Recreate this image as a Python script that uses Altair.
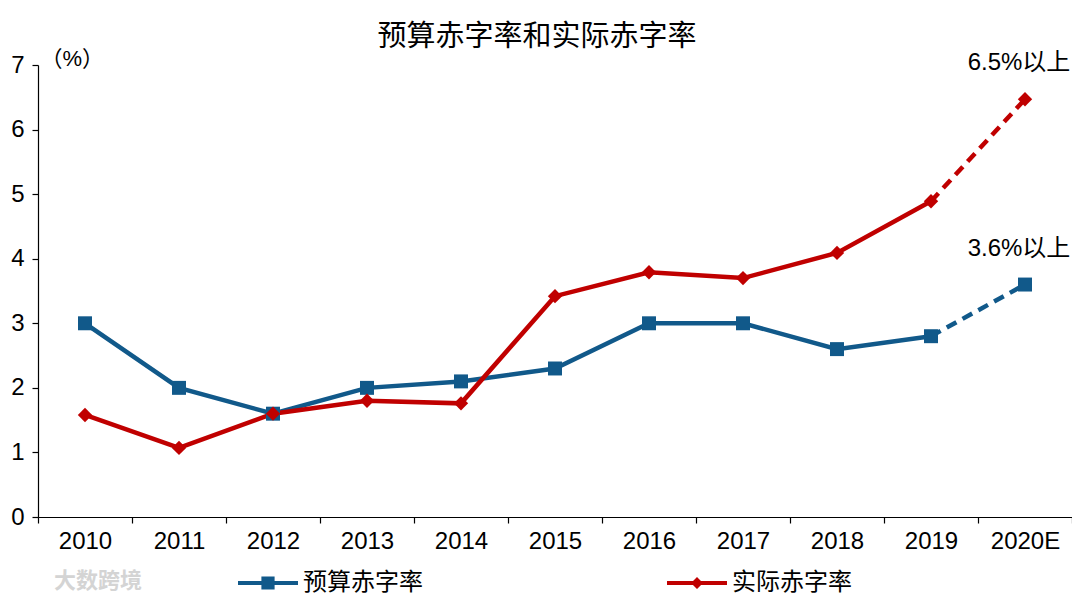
import json
import altair as alt
import pandas as pd

years = ["2010", "2011", "2012", "2013", "2014", "2015", "2016", "2017", "2018", "2019", "2020E"]
budget = [3.0, 2.0, 1.6, 2.0, 2.1, 2.3, 3.0, 3.0, 2.6, 2.8, 3.6]
actual = [1.58, 1.07, 1.60, 1.80, 1.76, 3.42, 3.79, 3.70, 4.09, 4.89, 6.47]
series_names = ["预算赤字率", "实际赤字率"]
series_colors = ["#11598a", "#c00000"]
notes = ["3.6%以上", "6.5%以上"]
title_text = "预算赤字率和实际赤字率"

FONT = "Liberation Sans, Noto Sans CJK SC, sans-serif"

rows = []
for i, y in enumerate(years):
    rows.append({"idx": i, "year": y, "series": series_names[0], "value": budget[i]})
    rows.append({"idx": i, "year": y, "series": series_names[1], "value": actual[i]})
df = pd.DataFrame(rows)

note_df = pd.DataFrame({
    "idx": [len(years) - 1, len(years) - 1],
    "value": [budget[-1], actual[-1]],
    "note": notes,
})

label_expr = json.dumps(years) + "[datum.value]"

x_scale = alt.Scale(domain=[-0.5, len(years) - 0.5], nice=False, zero=False)
y_scale = alt.Scale(domain=[0, 7], nice=False)

x_label_axis = alt.Axis(
    orient="bottom", values=list(range(len(years))), labelExpr=label_expr,
    ticks=False, domain=True, domainColor="#000", domainWidth=1.2,
    grid=False, title=None, labelFontSize=24, labelColor="#000",
    labelFont=FONT, labelPadding=12,
)
x_tick_axis = alt.Axis(
    orient="bottom", values=[i - 0.5 for i in range(len(years) + 1)],
    labels=False, ticks=True, tickSize=6, tickColor="#000", tickWidth=1.2,
    domain=False, grid=False, title=None,
)
y_axis = alt.Axis(
    values=list(range(0, 8)), format="d", grid=False, tickSize=6, tickColor="#000",
    tickWidth=1.2, domainColor="#000", domainWidth=1.2,
    labelFontSize=24, labelColor="#000", labelFont=FONT, labelPadding=8,
    title="（%）", titleAngle=0, titleX=2, titleY=5, titleAlign="left",
    titleBaseline="bottom", titleFontSize=22, titleFontWeight="normal",
    titleFont=FONT, titleColor="#000",
)

color_scale = alt.Scale(domain=series_names, range=series_colors)

base = alt.Chart(df)

solid = base.mark_line(strokeWidth=4.5).encode(
    x=alt.X("idx:Q", scale=x_scale, axis=x_label_axis),
    y=alt.Y("value:Q", scale=y_scale, axis=y_axis),
    color=alt.Color("series:N", scale=color_scale, legend=None),
    detail="series:N",
).transform_filter(alt.datum.idx <= len(years) - 2)

dashed = base.mark_line(strokeWidth=4.5, strokeDash=[11, 7]).encode(
    x=alt.X("idx:Q", scale=x_scale, axis=None),
    y=alt.Y("value:Q", scale=y_scale, axis=None),
    color=alt.Color("series:N", scale=color_scale, legend=None),
    detail="series:N",
).transform_filter(alt.datum.idx >= len(years) - 2)

points = base.mark_point(filled=True, opacity=1).encode(
    x=alt.X("idx:Q", scale=x_scale, axis=x_tick_axis),
    y=alt.Y("value:Q", scale=y_scale, axis=None),
    color=alt.Color("series:N", scale=color_scale, legend=None),
    shape=alt.Shape("series:N", scale=alt.Scale(domain=series_names, range=["square", "diamond"]), legend=None),
    size=alt.Size("series:N", scale=alt.Scale(domain=series_names, range=[195, 205]), legend=None),
)

legend_shapes = [
    "M-1,-0.07H1V0.07H-1ZM-0.22,-0.22H0.22V0.22H-0.22Z",
    "M-1,-0.07H1V0.07H-1ZM0,-0.2L0.2,0L0,0.2L-0.2,0Z",
]
legend_x = [200, 629]


def legend_layer(k):
    name = series_names[k]
    col = series_colors[k]
    return base.mark_point(
        filled=True, opacity=1, color=col, fill=col, strokeWidth=0
    ).encode(
        x=alt.X("idx:Q", scale=x_scale, axis=None),
        y=alt.Y("value:Q", scale=y_scale, axis=None),
        shape=alt.Shape(
            "series:N",
            scale=alt.Scale(domain=[name], range=[legend_shapes[k]]),
            legend=alt.Legend(
                title=None, orient="none", legendX=legend_x[k], legendY=488,
                direction="horizontal", symbolSize=3600, symbolStrokeWidth=0,
                symbolFillColor=col,
                labelFontSize=24, labelFont=FONT, labelColor="#000", labelOffset=5,
            ),
        ),
    ).transform_filter(alt.datum.idx < 0)


notes_layer = alt.Chart(note_df).mark_text(
    fontSize=24, font=FONT, color="#000", dy=-36, dx=-6
).encode(
    x=alt.X("idx:Q", scale=x_scale, axis=None),
    y=alt.Y("value:Q", scale=y_scale, axis=None),
    text="note:N",
)

watermark = alt.Chart(pd.DataFrame({"t": ["大数跨境"]})).mark_text(
    fontSize=22, font=FONT, color="#d4d4d4", align="left", baseline="middle", fontWeight="bold"
).encode(x=alt.value(16), y=alt.value(516), text="t:N")

chart = alt.layer(
    solid, dashed, points, legend_layer(0), legend_layer(1), notes_layer, watermark
).resolve_scale(
    shape="independent", size="independent"
).resolve_axis(x="independent", y="independent").resolve_legend(shape="independent").properties(
    width=1034, height=452,
    padding={"left": 30, "top": 57, "right": 0, "bottom": 78},
    autosize=alt.AutoSizeParams(type="none"),
    title=alt.TitleParams(
        text=title_text, fontSize=29, font=FONT, fontWeight="normal",
        color="#000", anchor="middle", dx=-18, offset=-5,
    ),
).configure_view(stroke=None)

chart.save("out.html", embed_options={"renderer": "svg", "actions": False})
